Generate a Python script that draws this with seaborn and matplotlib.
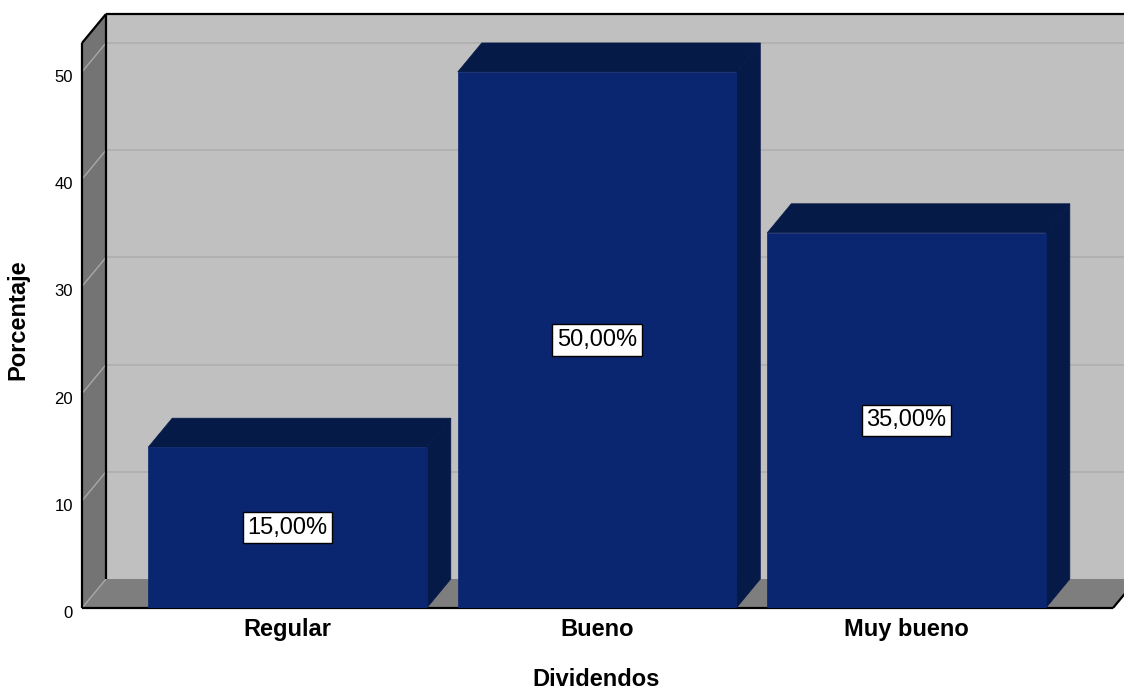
import matplotlib
matplotlib.use('Agg')
import matplotlib.pyplot as plt
import matplotlib.transforms as mtransforms
import seaborn as sns
from matplotlib.patches import Polygon

# datos del gráfico
categorias = ['Regular', 'Bueno', 'Muy bueno']
porcentajes = [15.0, 50.0, 35.0]
ticks_y = [0, 10, 20, 30, 40, 50]

sns.set_style('white')
plt.rcParams['font.family'] = ['Liberation Sans', 'DejaVu Sans']
plt.rcParams['text.color'] = 'black'
plt.rcParams['axes.labelcolor'] = 'black'
plt.rcParams['xtick.color'] = 'black'
plt.rcParams['ytick.color'] = 'black'

W, H = 1124, 693
fig = plt.figure(figsize=(W / 100, H / 100), dpi=100)
# plano frontal del gráfico (en píxeles)
izq, der, abajo, arriba = 82, 1113, 608, 43
ax = fig.add_axes([izq / W, (H - abajo) / H, (der - izq) / W, (abajo - arriba) / H])
ax.set_facecolor('none')

frente = '#0a2670'
sombra = '#061a48'
sns.barplot(x=categorias, y=porcentajes, color=frente, saturation=1, width=0.9,
            ax=ax, zorder=5, edgecolor=frente, linewidth=0.5)

x0, x1 = -0.664, 2.667
ymax = 52.7
ax.set_xlim(x0, x1)
ax.set_ylim(0, ymax)

# profundidad del efecto 3D (en píxeles -> datos)
dx = 24 / ((der - izq) / (x1 - x0))
dy = 29 / ((abajo - arriba) / ymax)

barras = list(ax.patches)

# pared del fondo, pared lateral y piso
ax.add_patch(Polygon([(x0 + dx, dy), (x0 + dx, ymax + dy), (x1 + dx, ymax + dy), (x1 + dx, dy)],
                     closed=True, facecolor='#c0c0c0', edgecolor='none', zorder=0, clip_on=False))
ax.add_patch(Polygon([(x0, 0), (x0, ymax), (x0 + dx, ymax + dy), (x0 + dx, dy)],
                     closed=True, facecolor='#747474', edgecolor='none', zorder=2, clip_on=False))
ax.add_patch(Polygon([(x0, 0), (x1, 0), (x1 + dx, dy), (x0 + dx, dy)],
                     closed=True, facecolor='#7e7e7e', edgecolor='none', zorder=2, clip_on=False))

# líneas de cuadrícula
for t in ticks_y:
    if t > 0:
        ax.plot([x0 + dx, x1 + dx], [t + dy, t + dy], color='#b0b0b0', lw=1.3, zorder=1, clip_on=False)
    ax.plot([x0, x0 + dx], [t, t + dy], color='#a8a8a8', lw=1, zorder=2.5, clip_on=False)

# bordes negros
negro = dict(color='black', lw=1.6, clip_on=False, solid_capstyle='butt')
ax.plot([x0, x0], [0, ymax], zorder=3, **negro)
ax.plot([x0, x0 + dx], [ymax, ymax + dy], zorder=3, **negro)
ax.plot([x0 + dx, x0 + dx], [dy, ymax + dy], zorder=3, **negro)
ax.plot([x0 + dx, x1 + dx], [ymax + dy, ymax + dy], zorder=3, **negro)
ax.plot([x0, x1], [0, 0], zorder=3, **negro)
ax.plot([x1, x1 + dx], [0, dy], zorder=3, **negro)

# caras superiores y laterales de las barras + etiquetas
for p in barras:
    xa, w, h = p.get_x(), p.get_width(), p.get_height()
    ax.add_patch(Polygon([(xa, h), (xa + w, h), (xa + w + dx, h + dy), (xa + dx, h + dy)],
                         closed=True, facecolor=sombra, edgecolor=sombra, lw=0.5, zorder=4, clip_on=False))
    ax.add_patch(Polygon([(xa + w, 0), (xa + w + dx, dy), (xa + w + dx, h + dy), (xa + w, h)],
                         closed=True, facecolor=sombra, edgecolor=sombra, lw=0.5, zorder=4, clip_on=False))
    etiqueta = f'{h:.2f}'.replace('.', ',') + '%'
    ax.text(xa + w / 2, h / 2, etiqueta, ha='center', va='center', fontsize=17, zorder=7,
            bbox=dict(boxstyle='square,pad=0.2', facecolor='white', edgecolor='black', lw=1))

# ejes
ax.set_yticks(ticks_y)
ax.tick_params(axis='y', length=0, pad=6.5, labelsize=12)
ax.tick_params(axis='x', length=0, pad=7, labelsize=17)
bajar = mtransforms.ScaledTranslation(0, -4 / 100, fig.dpi_scale_trans)
for lbl in ax.get_yticklabels():
    lbl.set_transform(lbl.get_transform() + bajar)
for lbl in ax.get_xticklabels():
    lbl.set_fontweight('bold')
for s in ax.spines.values():
    s.set_visible(False)

ax.set_xlabel('Dividendos', fontsize=17, fontweight='bold')
ax.set_ylabel('Porcentaje', fontsize=17, fontweight='bold')
ax.xaxis.set_label_coords((596 - izq) / (der - izq), (abajo - 668) / (abajo - arriba))
ax.yaxis.set_label_coords((29 - izq) / (der - izq), (abajo - 320) / (abajo - arriba))

fig.savefig('out.png', dpi=100)
